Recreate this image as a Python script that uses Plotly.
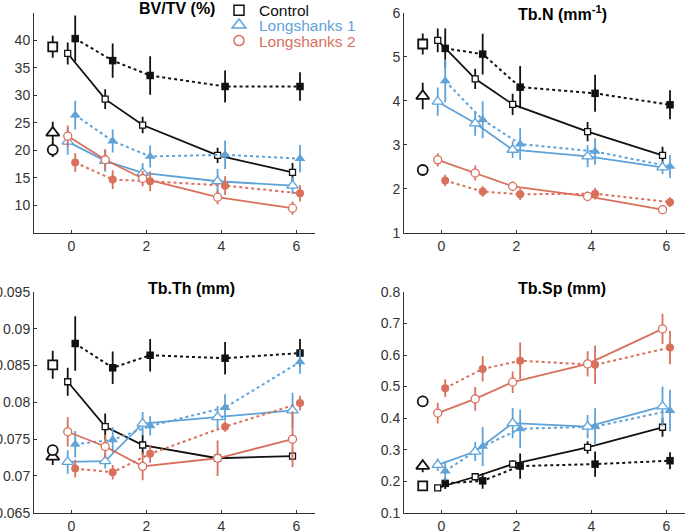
import plotly.graph_objects as go

# ---------------- data ----------------
weeks = [0, 1, 2, 4, 6]
baseline_x = [-0.5]

# BV/TV (%)
bvtv_ctrl_open = [37.6, 29.3, 24.6, 19.1, 16.0]
bvtv_ctrl_open_err = [2.0, 1.8, 1.5, 1.4, 1.7]
bvtv_ctrl_fill = [40.3, 36.3, 33.6, 31.6, 31.6]
bvtv_ctrl_fill_err = [4.2, 3.1, 3.5, 2.9, 2.6]
bvtv_ls1_open = [21.6, 18.1, 15.9, 14.4, 13.6]
bvtv_ls1_open_err = [2.4, 2.0, 1.8, 2.2, 1.5]
bvtv_ls1_fill = [26.4, 21.7, 18.9, 19.2, 18.5]
bvtv_ls1_fill_err = [2.6, 2.1, 2.0, 2.6, 2.5]
bvtv_ls2_open = [22.6, 18.3, 14.9, 11.5, 9.5]
bvtv_ls2_open_err = [1.9, 1.9, 1.4, 1.3, 1.2]
bvtv_ls2_fill = [17.8, 14.7, 14.4, 13.6, 12.2]
bvtv_ls2_fill_err = [1.7, 1.7, 1.8, 1.7, 1.5]
bvtv_base = [38.8, 23.2, 20.1]
bvtv_base_err = [2.0, 2.0, 1.3]

# Tb.N (mm^-1)
tbn_ctrl_open = [5.37, 4.50, 3.92, 3.30, 2.76]
tbn_ctrl_open_err = [0.27, 0.23, 0.24, 0.22, 0.20]
tbn_ctrl_fill = [5.19, 5.06, 4.31, 4.17, 3.91]
tbn_ctrl_fill_err = [0.45, 0.46, 0.48, 0.42, 0.33]
tbn_ls1_open = [3.98, 3.49, 2.89, 2.74, 2.49]
tbn_ls1_open_err = [0.32, 0.28, 0.19, 0.25, 0.15]
tbn_ls1_fill = [4.45, 3.57, 3.02, 2.85, 2.51]
tbn_ls1_fill_err = [0.49, 0.42, 0.36, 0.30, 0.26]
tbn_ls2_open = [2.66, 2.36, 2.06, 1.83, 1.53]
tbn_ls2_open_err = [0.15, 0.17, 0.11, 0.11, 0.05]
tbn_ls2_fill = [2.19, 1.94, 1.88, 1.89, 1.70]
tbn_ls2_fill_err = [0.13, 0.12, 0.13, 0.13, 0.11]
tbn_base = [5.29, 4.11, 2.43]
tbn_base_err = [0.24, 0.30, 0.02]

# Tb.Th (mm)
tbth_ctrl_open = [0.0828, 0.0767, 0.0742, 0.0724, 0.0727]
tbth_ctrl_open_err = [0.0019, 0.0018, 0.0014, 0.0003, 0.0006]
tbth_ctrl_fill = [0.0880, 0.0847, 0.0864, 0.0860, 0.0867]
tbth_ctrl_fill_err = [0.0037, 0.0022, 0.0022, 0.0022, 0.0019]
tbth_ls1_open = [0.0719, 0.0720, 0.0771, 0.0780, 0.0789]
tbth_ls1_open_err = [0.0016, 0.0010, 0.0016, 0.0015, 0.0024]
tbth_ls1_fill = [0.0743, 0.0749, 0.0768, 0.0793, 0.0855]
tbth_ls1_fill_err = [0.0018, 0.0017, 0.0013, 0.0018, 0.0016]
tbth_ls2_open = [0.0760, 0.0740, 0.0713, 0.0724, 0.0750]
tbth_ls2_open_err = [0.0020, 0.0016, 0.0019, 0.0024, 0.0038]
tbth_ls2_fill = [0.0710, 0.0705, 0.0730, 0.0767, 0.0799]
tbth_ls2_fill_err = [0.0012, 0.0010, 0.0012, 0.0007, 0.0010]
tbth_base = [0.0851, 0.0726, 0.0735]
tbth_base_err = [0.0019, 0.0011, 0.0007]

# Tb.Sp (mm)
tbsp_ctrl_open = [0.179, 0.214, 0.254, 0.307, 0.371]
tbsp_ctrl_open_err = [0.005, 0.010, 0.012, 0.020, 0.030]
tbsp_ctrl_fill = [0.193, 0.201, 0.248, 0.254, 0.265]
tbsp_ctrl_fill_err = [0.018, 0.025, 0.040, 0.040, 0.027]
tbsp_ls1_open = [0.252, 0.294, 0.384, 0.373, 0.437]
tbsp_ls1_open_err = [0.020, 0.030, 0.048, 0.037, 0.063]
tbsp_ls1_fill = [0.232, 0.310, 0.366, 0.373, 0.424]
tbsp_ls1_fill_err = [0.030, 0.062, 0.061, 0.058, 0.066]
tbsp_ls2_open = [0.416, 0.461, 0.514, 0.572, 0.683]
tbsp_ls2_open_err = [0.033, 0.038, 0.034, 0.040, 0.048]
tbsp_ls2_fill = [0.495, 0.556, 0.582, 0.569, 0.624]
tbsp_ls2_fill_err = [0.028, 0.040, 0.058, 0.061, 0.053]
tbsp_base = [0.185, 0.248, 0.453]
tbsp_base_err = [0.003, 0.020, 0.018]

groups = ["Control", "Longshanks 1", "Longshanks 2"]
x_ticks = [0, 2, 4, 6]
bvtv_ticks = [10, 15, 20, 25, 30, 35, 40]
tbn_ticks = [1, 2, 3, 4, 5, 6]
tbth_ticks = [0.065, 0.07, 0.075, 0.08, 0.085, 0.09, 0.095]
tbth_ticklabels = ["0.065", "0.07", "0.075", "0.08", "0.085", "0.09", "0.095"]
tbsp_ticks = [0.1, 0.2, 0.3, 0.4, 0.5, 0.6, 0.7, 0.8]
tbsp_ticklabels = ["0.1", "0.2", "0.3", "0.4", "0.5", "0.6", "0.7", "0.8"]
titles = ["<b>BV/TV (%)</b>", "<b>Tb.N (mm<sup>-1</sup>)</b>", "<b>Tb.Th (mm)</b>", "<b>Tb.Sp (mm)</b>"]

# ---------------- style ----------------
BLACK = "#111111"
BLUE = "#5FA2D8"
RED = "#D8705C"
COLORS = [BLACK, BLUE, RED]
SYMBOLS = ["square", "triangle-up", "circle"]
OPEN_SIZE = [6, 10, 8]
FILL_SIZE = [7.5, 9.5, 8]
BASE_SIZE = [9, 11.5, 10]
FONT = "Liberation Sans, Arial, Helvetica, sans-serif"
OFF = 0.1

panels = [
    dict(ctrl=(bvtv_ctrl_open, bvtv_ctrl_open_err, bvtv_ctrl_fill, bvtv_ctrl_fill_err),
         ls1=(bvtv_ls1_open, bvtv_ls1_open_err, bvtv_ls1_fill, bvtv_ls1_fill_err),
         ls2=(bvtv_ls2_open, bvtv_ls2_open_err, bvtv_ls2_fill, bvtv_ls2_fill_err),
         base=(bvtv_base, bvtv_base_err)),
    dict(ctrl=(tbn_ctrl_open, tbn_ctrl_open_err, tbn_ctrl_fill, tbn_ctrl_fill_err),
         ls1=(tbn_ls1_open, tbn_ls1_open_err, tbn_ls1_fill, tbn_ls1_fill_err),
         ls2=(tbn_ls2_open, tbn_ls2_open_err, tbn_ls2_fill, tbn_ls2_fill_err),
         base=(tbn_base, tbn_base_err)),
    dict(ctrl=(tbth_ctrl_open, tbth_ctrl_open_err, tbth_ctrl_fill, tbth_ctrl_fill_err),
         ls1=(tbth_ls1_open, tbth_ls1_open_err, tbth_ls1_fill, tbth_ls1_fill_err),
         ls2=(tbth_ls2_open, tbth_ls2_open_err, tbth_ls2_fill, tbth_ls2_fill_err),
         base=(tbth_base, tbth_base_err)),
    dict(ctrl=(tbsp_ctrl_open, tbsp_ctrl_open_err, tbsp_ctrl_fill, tbsp_ctrl_fill_err),
         ls1=(tbsp_ls1_open, tbsp_ls1_open_err, tbsp_ls1_fill, tbsp_ls1_fill_err),
         ls2=(tbsp_ls2_open, tbsp_ls2_open_err, tbsp_ls2_fill, tbsp_ls2_fill_err),
         base=(tbsp_base, tbsp_base_err)),
]

fig = go.Figure()

for p, panel in enumerate(panels):
    xa = "x" if p == 0 else f"x{p+1}"
    ya = "y" if p == 0 else f"y{p+1}"
    for g, key in enumerate(["ctrl", "ls1", "ls2"]):
        o, oe, f, fe = panel[key]
        c = COLORS[g]
        # dotted / filled series
        fig.add_trace(go.Scatter(
            x=[w + OFF for w in weeks], y=f, xaxis=xa, yaxis=ya, mode="lines+markers",
            line=dict(color=c, width=2, dash="dot"),
            marker=dict(symbol=SYMBOLS[g], size=FILL_SIZE[g], color=c, line=dict(width=0)),
            error_y=dict(type="data", array=fe, color=c, thickness=1.8, width=0),
            cliponaxis=False, showlegend=False, hoverinfo="skip"))
        # solid / open series
        fig.add_trace(go.Scatter(
            x=[w - OFF for w in weeks], y=o, xaxis=xa, yaxis=ya, mode="lines+markers",
            line=dict(color=c, width=1.8),
            marker=dict(symbol=SYMBOLS[g], size=OPEN_SIZE[g], color="white",
                        line=dict(color=c, width=1.3)),
            error_y=dict(type="data", array=oe, color=c, thickness=1.8, width=0),
            cliponaxis=False, showlegend=False, hoverinfo="skip"))
    by, be = panel["base"]
    for g in range(3):
        fig.add_trace(go.Scatter(
            x=baseline_x, y=[by[g]], xaxis=xa, yaxis=ya, mode="markers",
            marker=dict(symbol=SYMBOLS[g], size=BASE_SIZE[g], color="white",
                        line=dict(color=BLACK, width=1.8)),
            error_y=dict(type="data", array=[be[g]], color=BLACK, thickness=1.8, width=0),
            cliponaxis=False, showlegend=False, hoverinfo="skip"))

W, H = 685, 531

# legend entries: one small legend per group so rows sit as tight as the original
legend_ids = ["legend", "legend2", "legend3"]
legend_rows = [10.7, 25.5, 41]
for g, name in enumerate(groups):
    fig.add_trace(go.Scatter(
        x=[None], y=[None], mode="markers", name=name, legend=legend_ids[g],
        marker=dict(symbol=SYMBOLS[g], size=[10, 12, 10][g], color="white",
                    line=dict(color=COLORS[g], width=1.5))))

xdom_l = [34 / W, 315 / W]
xdom_r = [404 / W, 1.0]
ydom_t = [1 - 233 / H, 1 - 12.7 / H]
ydom_b = [1 - 512.7 / H, 1 - 292 / H]

axis_common = dict(showline=True, linecolor="#333333", linewidth=1, ticks="inside",
                   ticklen=3, tickcolor="#333333", showgrid=False, zeroline=False,
                   automargin=False,
                   tickfont=dict(family=FONT, size=14, color="#333333"), mirror=False)

layout_axes = {}
specs = [
    (xdom_l, ydom_t, [5, 45], bvtv_ticks, [str(v) for v in bvtv_ticks]),
    (xdom_r, ydom_t, [1, 6], tbn_ticks, [str(v) for v in tbn_ticks]),
    (xdom_l, ydom_b, [0.065, 0.095], tbth_ticks, tbth_ticklabels),
    (xdom_r, ydom_b, [0.1, 0.8], tbsp_ticks, tbsp_ticklabels),
]
for p, (xd, yd, yr, tv, tt) in enumerate(specs):
    sx = "xaxis" if p == 0 else f"xaxis{p+1}"
    sy = "yaxis" if p == 0 else f"yaxis{p+1}"
    ya = "y" if p == 0 else f"y{p+1}"
    xa = "x" if p == 0 else f"x{p+1}"
    layout_axes[sx] = dict(domain=xd, range=[-1, 6.5], anchor=ya, tickvals=x_ticks,
                           ticktext=[str(v) for v in x_ticks], **axis_common)
    layout_axes[sy] = dict(domain=yd, range=yr, anchor=xa, tickvals=tv, ticktext=tt,
                           **axis_common)

title_pos = [(177, 8.5), (562, 13), (191, 288.5), (562, 288.5)]
annotations = []
for t, (px, py) in zip(titles, title_pos):
    annotations.append(dict(text=t, x=px / W, y=1 - py / H, xref="paper", yref="paper",
                            xanchor="center", yanchor="middle", showarrow=False,
                            font=dict(family=FONT, size=16, color="black")))

legend_layout = {}
for g, lid in enumerate(legend_ids):
    legend_layout[lid] = dict(x=219 / W, y=1 - legend_rows[g] / H, xanchor="left",
                              yanchor="middle", bgcolor="rgba(0,0,0,0)",
                              font=dict(family=FONT, size=15.5, color=COLORS[g]),
                              itemwidth=30, borderwidth=0)

fig.update_layout(
    width=W, height=H, margin=dict(l=0, r=0, t=0, b=0, autoexpand=False),
    paper_bgcolor="white", plot_bgcolor="white",
    showlegend=True,
    annotations=annotations,
    **legend_layout,
    **layout_axes)

fig.write_html("out.html", config={"displayModeBar": False},
               post_script="document.body.style.margin='0';document.body.style.padding='0';")
